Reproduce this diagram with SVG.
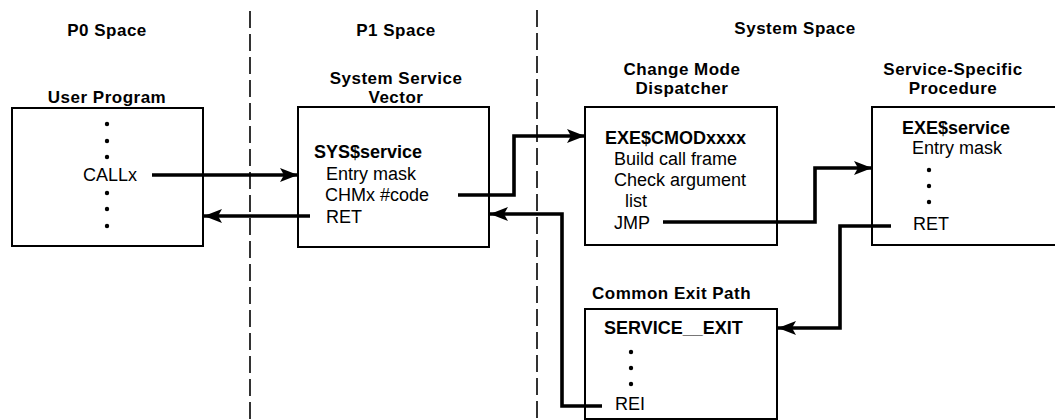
<svg xmlns="http://www.w3.org/2000/svg" width="1055" height="420" viewBox="0 0 1055 420">
<style>
  .hdr{font-family:"Liberation Sans",Arial,sans-serif;font-size:17px;letter-spacing:0.5px;font-weight:bold;fill:#000}
  .b{font-family:"Liberation Sans",Arial,sans-serif;font-size:18px;font-weight:bold;fill:#000}
  .t{font-family:"Liberation Sans",Arial,sans-serif;font-size:18px;fill:#000}
  .box{fill:#fff;stroke:#000;stroke-width:2}
  .div{fill:none;stroke:#000;stroke-width:1.6;stroke-dasharray:17 6}
  .con{fill:none;stroke:#000;stroke-width:3.6;stroke-linejoin:miter}
  .dot{fill:#000}
</style>
<defs>
  <marker id="ah" markerUnits="userSpaceOnUse" markerWidth="18" markerHeight="14" refX="18" refY="7" orient="auto">
    <path d="M0,0 L18,7 L0,14 L4,7 Z" fill="#000"/>
  </marker>
</defs>
<rect width="1055" height="420" fill="#fff"/>

<g id="dividers">
  <line class="div" x1="250" y1="11" x2="250" y2="420"/>
  <line class="div" x1="537" y1="10" x2="537" y2="420"/>
</g>

<g id="headers">
  <text class="hdr" x="107" y="36" text-anchor="middle">P0 Space</text>
  <text class="hdr" x="396" y="36" text-anchor="middle">P1 Space</text>
  <text class="hdr" x="795" y="34" text-anchor="middle">System Space</text>
</g>

<g id="user-program">
  <text class="hdr" x="107" y="103" text-anchor="middle">User Program</text>
  <rect class="box" x="12" y="108" width="191" height="138"/>
  <circle class="dot" cx="107" cy="124" r="2.2"/>
  <circle class="dot" cx="107" cy="141" r="2.2"/>
  <circle class="dot" cx="107" cy="157" r="2.2"/>
  <text class="t" x="83" y="181">CALLx</text>
  <circle class="dot" cx="107" cy="193" r="2.2"/>
  <circle class="dot" cx="107" cy="209" r="2.2"/>
  <circle class="dot" cx="107" cy="226" r="2.2"/>
</g>

<g id="system-service-vector">
  <text class="hdr" x="396" y="84" text-anchor="middle">System Service</text>
  <text class="hdr" x="396" y="103" text-anchor="middle">Vector</text>
  <rect class="box" x="298" y="107" width="191" height="140"/>
  <text class="b" x="314" y="158">SYS$service</text>
  <text class="t" x="326" y="180">Entry mask</text>
  <text class="t" x="325" y="201">CHMx #code</text>
  <text class="t" x="326" y="223">RET</text>
</g>

<g id="change-mode-dispatcher">
  <text class="hdr" x="682" y="75" text-anchor="middle">Change Mode</text>
  <text class="hdr" x="682" y="94" text-anchor="middle">Dispatcher</text>
  <rect class="box" x="585" y="107" width="192" height="138"/>
  <text class="b" x="605" y="144">EXE$CMODxxxx</text>
  <text class="t" x="614" y="165">Build call frame</text>
  <text class="t" x="614" y="186">Check argument</text>
  <text class="t" x="625" y="207">list</text>
  <text class="t" x="614" y="229">JMP</text>
</g>

<g id="service-specific-procedure">
  <text class="hdr" x="953" y="75" text-anchor="middle">Service-Specific</text>
  <text class="hdr" x="953" y="94" text-anchor="middle">Procedure</text>
  <path class="box" d="M1058,107 H872 V245 H1058"/>
  <text class="b" x="902" y="134">EXE$service</text>
  <text class="t" x="912" y="154">Entry mask</text>
  <circle class="dot" cx="929" cy="170" r="2.2"/>
  <circle class="dot" cx="929" cy="186" r="2.2"/>
  <circle class="dot" cx="929" cy="202" r="2.2"/>
  <text class="t" x="913" y="230">RET</text>
</g>

<g id="common-exit-path">
  <text class="hdr" x="592" y="299">Common Exit Path</text>
  <rect class="box" x="585" y="309" width="192" height="110"/>
  <text class="b" x="604" y="334">SERVICE__EXIT</text>
  <circle class="dot" cx="631" cy="352" r="2.2"/>
  <circle class="dot" cx="631" cy="368" r="2.2"/>
  <circle class="dot" cx="631" cy="384" r="2.2"/>
  <text class="t" x="615" y="410">REI</text>
</g>

<g id="connectors">
  <path class="con" d="M152,175 H298" marker-end="url(#ah)"/>
  <path class="con" d="M310,216 H204" marker-end="url(#ah)"/>
  <path class="con" d="M458,195 H514 V136 H585" marker-end="url(#ah)"/>
  <path class="con" d="M602,406 H562 V214 H490" marker-end="url(#ah)"/>
  <path class="con" d="M663,222 H815 V168 H872" marker-end="url(#ah)"/>
  <path class="con" d="M891,226 H840 V328 H778" marker-end="url(#ah)"/>
</g>
</svg>
